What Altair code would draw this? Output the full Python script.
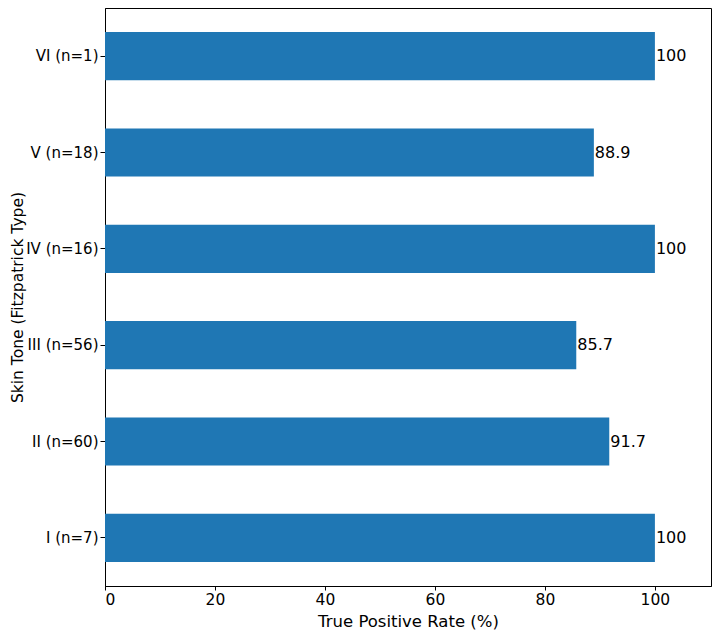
import altair as alt
import pandas as pd

categories = ["I (n=7)", "II (n=60)", "III (n=56)", "IV (n=16)", "V (n=18)", "VI (n=1)"]
rates = [100, 91.7, 85.7, 100, 88.9, 100]
labels = ["100", "91.7", "85.7", "100", "88.9", "100"]

df = pd.DataFrame({"cat": categories, "rate": rates, "label": labels})
order = list(reversed(categories))

FONT = "DejaVu Sans"

y = alt.Y("cat:N", sort=order,
          scale=alt.Scale(paddingInner=0.5, paddingOuter=0.25),
          axis=alt.Axis(title="Skin Tone (Fitzpatrick Type)", titleFontSize=15.5,
                        titleFontWeight="normal", titleFont=FONT, titleColor="black",
                        titleX=-88, titleBaseline="middle",
                        labelFont=FONT, labelFontSize=15, labelColor="black",
                        tickColor="black", tickSize=5, domainColor="black",
                        labelPadding=2))
x = alt.X("rate:Q", scale=alt.Scale(domain=[0, 110.2], nice=False),
          axis=alt.Axis(title="True Positive Rate (%)", values=[0, 20, 40, 60, 80, 100],
                        titleFontSize=16.5, titleFontWeight="normal", titleFont=FONT,
                        titleColor="black", titleY=40, titleBaseline="alphabetic",
                        labelFont=FONT, labelFontSize=15.5,
                        labelColor="black", tickColor="black", tickSize=4,
                        domainColor="black", grid=False, labelPadding=2))

bars = alt.Chart(df).mark_bar(color="#1f77b4").encode(x=x, y=y)
text = alt.Chart(df).mark_text(align="left", baseline="middle", dx=1, font=FONT,
                               fontSize=16, color="black").encode(
    x="rate:Q", y=alt.Y("cat:N", sort=order), text="label:N")

chart = (bars + text).properties(
    width=606, height=578,
    autosize=alt.AutoSizeParams(type="none"),
    padding={"left": 97, "top": 0, "right": 1, "bottom": 44},
).configure_view(stroke="black", strokeWidth=1).configure_axis(grid=False)

chart.save("out.html", embed_options={"renderer": "svg", "actions": False})
